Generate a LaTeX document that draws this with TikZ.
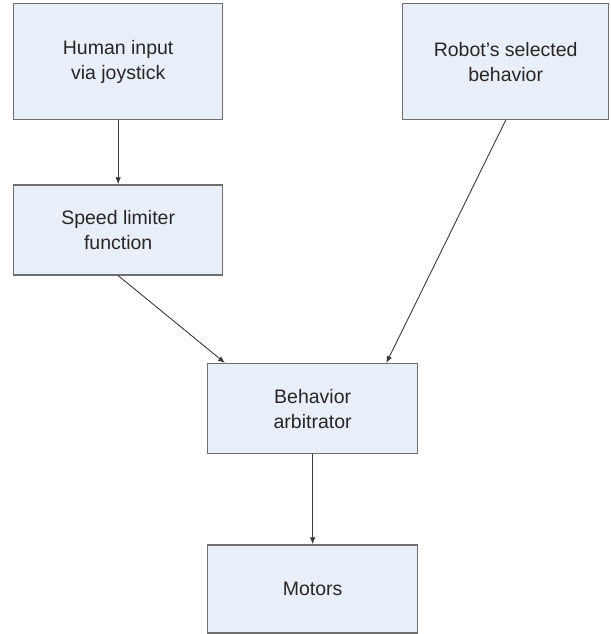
\documentclass[tikz,border=0pt]{standalone}
\usepackage{fontspec}
\setmainfont{Liberation Sans}
\usetikzlibrary{arrows.meta,positioning}
\definecolor{boxfill}{HTML}{E9EFF8}
\definecolor{boxline}{HTML}{6E6E6E}
\definecolor{linkgray}{HTML}{3A3A3A}

\begin{document}
\begin{tikzpicture}[x=1pt,y=1pt,>=Latex,
    blockbox/.style={draw=boxline,fill=boxfill,line width=1.3pt,
      align=center,inner sep=0pt,text=black!85,
      font=\fontsize{19.5}{25}\selectfont},
    link/.style={linkgray,line width=0.9pt,-{Latex[length=7pt,width=5.5pt]}}]
      \useasboundingbox (0,0) rectangle (610,634);
      \node[blockbox,anchor=north west,minimum width=209,minimum height=116]
        (hum) at (13,631) {Human input\\via joystick};
      \node[blockbox,anchor=north west,minimum width=206,minimum height=116]
        (rob) at (402,631) {Robot's selected\\behavior};
      \node[blockbox,below=64 of hum,minimum width=209,minimum height=90]
        (lim) {Speed limiter\\function};
      \node[blockbox,anchor=north west,minimum width=210,minimum height=90]
        (arb) at (207,271) {Behavior\\arbitrator};
      \node[blockbox,below=90 of arb,minimum width=210,minimum height=88]
        (mot) {Motors};
      \draw[link] (hum)--(lim);
      \draw[link] (lim.south)--([xshift=18]arb.north west);
      \draw[link] (rob.south)--([xshift=-32]arb.north east);
      \draw[link] (arb)--(mot);
    \end{tikzpicture}
\end{document}
